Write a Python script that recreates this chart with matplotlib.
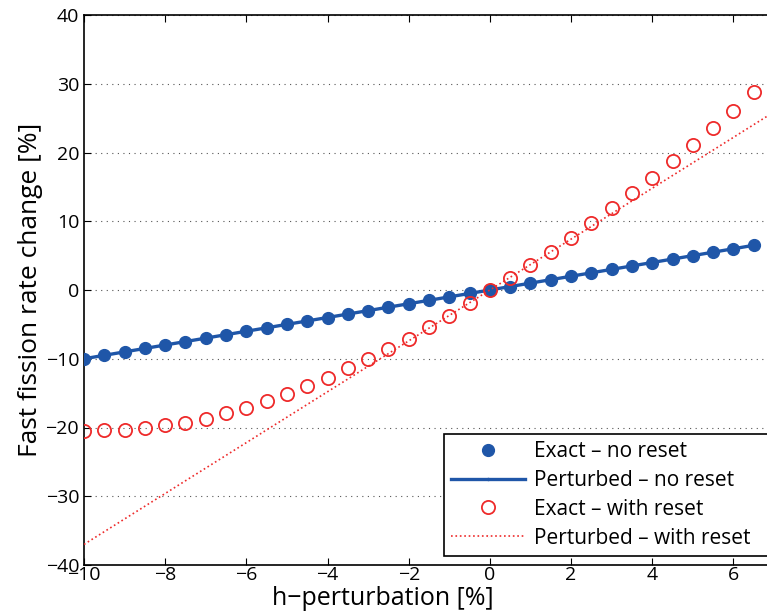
import matplotlib
matplotlib.use('Agg')
import matplotlib.pyplot as plt
import numpy as np

plt.rcParams['font.family'] = ['Open Sans', 'DejaVu Sans']

# h-perturbation grid [%]
h_pert = np.arange(-10.0, 6.51, 0.5)

# Exact recomputation, no reset
exact_no_reset = [-10.0, -9.5, -9.0, -8.5, -8.0, -7.5, -7.0, -6.5, -6.0, -5.5,
                  -5.0, -4.5, -4.0, -3.5, -3.0, -2.5, -2.0, -1.5, -1.0, -0.5,
                  0.0, 0.5, 1.0, 1.5, 2.0, 2.5, 3.0, 3.5, 4.0, 4.5,
                  5.0, 5.5, 6.0, 6.5]
# Perturbation theory, no reset
pert_no_reset = list(exact_no_reset)

# Exact recomputation, with reset
exact_reset = [-20.5, -20.4, -20.3, -20.1, -19.7, -19.3, -18.7, -17.9, -17.1, -16.2,
               -15.1, -14.0, -12.8, -11.4, -10.0, -8.6, -7.1, -5.4, -3.8, -1.9,
               0.0, 1.8, 3.6, 5.6, 7.6, 9.7, 11.9, 14.1, 16.3, 18.7,
               21.1, 23.6, 26.1, 28.8]

# Perturbation theory, with reset (linear response)
pert_x = [-10.0, 7.0]
pert_reset = [-37.0, 25.9]

BLUE = '#1f56a8'
RED = '#ee2a2a'

fig = plt.figure(figsize=(7.67, 6.14), dpi=100)
ax = fig.add_axes([84 / 767, 49 / 614, 690 / 767, 550 / 614])

ax.plot(h_pert, pert_no_reset, '-', color=BLUE, lw=2.4, marker='.', ms=3,
        label='Perturbed \u2013 no reset', zorder=3)
ax.plot(h_pert, exact_no_reset, 'o', color=BLUE, ms=8.5, ls='none',
        label='Exact \u2013 no reset', zorder=4)
ax.plot(pert_x, pert_reset, ':', color=RED, lw=1.2, marker='.', ms=0.1,
        label='Perturbed \u2013 with reset', zorder=5)
ax.plot(h_pert, exact_reset, 'o', mfc='none', mec=RED, mew=1.3, ms=9.5, ls='none',
        label='Exact \u2013 with reset', zorder=6)

ax.set_xlim(-10, 7)
ax.set_ylim(-40, 40)
ax.set_xticks(np.arange(-10, 7, 2))
ax.set_yticks(np.arange(-40, 41, 10))
ax.yaxis.grid(True, linestyle=(0, (1, 4)), color='#555555', lw=0.8)
ax.tick_params(direction='in', top=True, right=False, labelsize=14, length=5)
ax.tick_params(axis='x', pad=1)
for sp in ax.spines.values():
    sp.set_linewidth(1.2)

ax.set_xlabel('h\u2212perturbation [%]', fontsize=18)
ax.xaxis.set_label_coords((383 - 84) / 690, -0.039)
ax.set_ylabel('Fast fission rate change [%]', fontsize=19, labelpad=2)

handles, labels = ax.get_legend_handles_labels()
order = [1, 0, 3, 2]
leg = fig.legend([handles[i] for i in order], [labels[i] for i in order],
                 loc='lower left', mode='expand',
                 bbox_to_anchor=(444 / 767, 58 / 614, 340 / 767, 0.3),
                 fontsize=15, frameon=True, fancybox=False, framealpha=1,
                 edgecolor='black', borderpad=0.35, labelspacing=0.38,
                 handlelength=3.55, handletextpad=0.4, borderaxespad=0)
leg.get_frame().set_linewidth(1.2)

fig.savefig('out.png', dpi=100)
